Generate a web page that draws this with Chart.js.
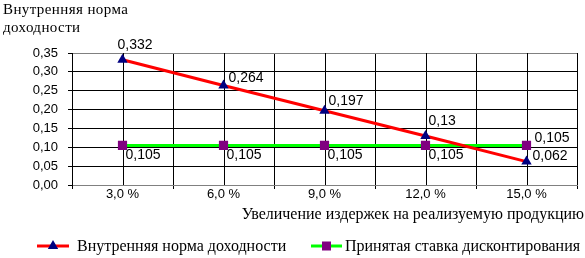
<!DOCTYPE html>
<html>
<head>
<meta charset="utf-8">
<script src="https://cdn.jsdelivr.net/npm/chart.js@4.4.1/dist/chart.umd.min.js"></script>
<style>
html, body { margin: 0; padding: 0; background: #fff; }
#wrap { width: 585px; height: 258px; }
</style>
</head>
<body>
<div id="wrap"><canvas id="chart"></canvas></div>
<script>
// data
var categories = ['3,0 %', '6,0 %', '9,0 %', '12,0 %', '15,0 %'];
var irrValues = [0.332, 0.264, 0.197, 0.13, 0.062];
var rateValues = [0.105, 0.105, 0.105, 0.105, 0.105];
var seriesNames = ['Внутренняя норма доходности', 'Принятая ставка дисконтирования'];
var yMin = 0, yMax = 0.35, yStep = 0.05;
var yTitle = ['Внутренняя норма', 'доходности'];
var xTitle = 'Увеличение издержек на реализуемую продукцию';

var SERIF = '"Liberation Serif", "Times New Roman", serif';
var SANS = '"Liberation Sans", Arial, sans-serif';

function comma(v) {
    return String(v).replace('.', ',');
}

// offsets of value labels from their points
var labelOffsets = [
    [[-5, -15], [5, -7], [4, -10], [3, -15], [6, -5]],
    [[3, 10], [3, 10], [3, 10], [3, 10], [8, -7]]
];

// legend: where each entry's line starts and its text begins
var legendPos = [
    { x0: 37, x1: 69, tx: 77 },
    { x0: 311, x1: 342, tx: 345 }
];
var legendY = 246;

function drawMark(ctx, shape, color, x, y) {
    ctx.fillStyle = color;
    if (shape == 'triangle') {
        ctx.beginPath();
        ctx.moveTo(x, y - 6);
        ctx.lineTo(x + 5.2, y + 3);
        ctx.lineTo(x - 5.2, y + 3);
        ctx.closePath();
        ctx.fill();
    } else {
        ctx.fillRect(x - 4.5, y - 4.5, 9, 9);
    }
}

var extras = {
    id: 'extras',
    beforeDatasetsDraw: function(chart) {
        var ctx = chart.ctx, a = chart.chartArea, x = chart.scales.x;
        ctx.save();
        ctx.strokeStyle = '#000';
        ctx.lineWidth = 1;
        for (var i = 0; i < categories.length; i++) {
            var px = Math.round(x.getPixelForValue(i)) + 0.5;
            ctx.beginPath(); ctx.moveTo(px, a.top); ctx.lineTo(px, a.bottom); ctx.stroke();
        }
        ctx.restore();
    },
    afterDraw: function(chart) {
        var ctx = chart.ctx;
        ctx.save();
        ctx.fillStyle = '#000';
        ctx.textAlign = 'left';
        ctx.textBaseline = 'alphabetic';
        ctx.font = '15px ' + SERIF;
        ctx.letterSpacing = '0.4px';
        ctx.fillText(yTitle[0], 3, 14);
        ctx.fillText(yTitle[1], 3, 32);
        ctx.letterSpacing = '0px';
        ctx.font = '16px ' + SERIF;
        ctx.textAlign = 'right';
        ctx.fillText(xTitle, 584, 219);

        // legend
        ctx.textAlign = 'left';
        ctx.textBaseline = 'middle';
        chart.data.datasets.forEach(function(ds, di) {
            var p = legendPos[di];
            ctx.strokeStyle = ds.borderColor;
            ctx.lineWidth = 3;
            ctx.beginPath(); ctx.moveTo(p.x0, legendY); ctx.lineTo(p.x1, legendY); ctx.stroke();
            drawMark(ctx, ds.pointStyle, ds.pointBackgroundColor, (p.x0 + p.x1) / 2, legendY);
            ctx.fillStyle = '#000';
            ctx.fillText(ds.label, p.tx, legendY + 1);
        });

        // value labels
        ctx.font = '14px ' + SANS;
        chart.data.datasets.forEach(function(ds, di) {
            chart.getDatasetMeta(di).data.forEach(function(pt, i) {
                var off = labelOffsets[di][i];
                ctx.fillText(comma(ds.data[i]), pt.x + off[0], pt.y + off[1]);
            });
        });
        ctx.restore();
    }
};

var ctx = document.getElementById('chart').getContext('2d');
var chart = new Chart(ctx, {
    type: 'line',
    data: {
        labels: categories,
        datasets: [{
            label: seriesNames[0],
            data: irrValues,
            borderColor: '#ff0000',
            borderWidth: 3,
            pointStyle: 'triangle',
            pointRadius: 6,
            pointBackgroundColor: '#000080',
            pointBorderColor: '#000080',
            pointBorderWidth: 0,
            tension: 0
        }, {
            label: seriesNames[1],
            data: rateValues,
            borderColor: '#00ff00',
            borderWidth: 3,
            pointStyle: 'rect',
            pointRadius: 6.5,
            pointBackgroundColor: '#800080',
            pointBorderColor: '#800080',
            pointBorderWidth: 0,
            tension: 0
        }]
    },
    options: {
        responsive: true,
        maintainAspectRatio: false,
        animation: false,
        events: [],
        layout: { padding: { left: 0, right: 8, top: 53, bottom: 53 } },
        scales: {
            x: {
                offset: true,
                grid: {
                    offset: true,
                    color: function(c) { return c.index == categories.length ? '#808080' : '#000'; },
                    tickColor: '#000',
                    tickLength: 4
                },
                border: { color: '#808080' },
                ticks: { color: '#000', padding: -2, font: { family: SANS, size: 13 } },
                afterFit: function(s) { s.height = 20; }
            },
            y: {
                min: yMin,
                max: yMax,
                ticks: {
                    stepSize: yStep,
                    autoSkip: false,
                    color: '#000',
                    padding: 10,
                    font: { family: SANS, size: 13 },
                    callback: function(v) { return v.toFixed(2).replace('.', ','); }
                },
                grid: {
                    color: function(c) {
                        var v = c.tick ? c.tick.value : 0;
                        return (Math.abs(v - yMax) < 1e-9 || Math.abs(v - yMin) < 1e-9) ? '#808080' : '#000';
                    },
                    tickColor: '#000',
                    tickLength: 4
                },
                border: { color: '#000' },
                afterFit: function(s) { s.width = 72; }
            }
        },
        plugins: {
            legend: { display: false },
            tooltip: { enabled: false }
        }
    },
    plugins: [extras]
});
</script>
</body>
</html>
